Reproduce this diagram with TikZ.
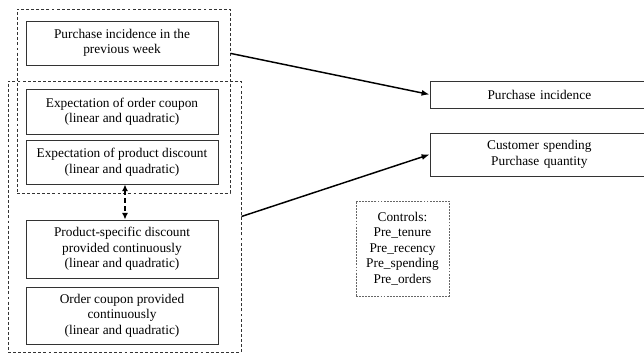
\documentclass[tikz,border=0pt]{standalone}
\usepackage{fontspec}
\setmainfont{Liberation Serif}
\usetikzlibrary{arrows.meta}

\tikzset{
  box/.style={draw=black!80, line width=0.6pt, rectangle, align=center, inner sep=2pt, font=\fontsize{10}{11.6}\selectfont},
  grpbox/.style={draw=black!80, line width=0.7pt, dash pattern=on 2.2pt off 1.6pt, rectangle, inner sep=0pt},
  ctrlbox/.style={draw=black!60, line width=0.7pt, dash pattern=on 1.4pt off 0.9pt, rectangle, align=center, inner sep=0pt, font=\fontsize{10}{11.6}\selectfont},
  arr/.style={-{Latex[length=6pt,width=4.5pt]}, line width=1.1pt}
}

\begin{document}
\begin{tikzpicture}[x=0.75pt,y=-0.75pt]
            \useasboundingbox (0,0) rectangle (644,354);

            \node (prev) [box, minimum width=144pt, minimum height=33pt] at (122,43) {Purchase incidence in the\\previous week};
            \node (coupon) [box, minimum width=144pt, minimum height=33.75pt] at (122,111.5) {Expectation of order coupon\\(linear and quadratic)};
            \node (discount) [box, minimum width=144pt, minimum height=33pt] at (122,162) {Expectation of product discount\\(linear and quadratic)};
            \node (product) [box, minimum width=144pt, minimum height=43.5pt] at (122,249) {Product-specific discount\\provided continuously\\(linear and quadratic)};
            \node (order) [box, minimum width=144pt, minimum height=42.75pt] at (122,315.5) {Order coupon provided\\continuously\\(linear and quadratic)};

            \node (grpa) [grpbox, minimum width=159.75pt, minimum height=138pt] at (123.5,101) {};
            \node (grpb) [grpbox, minimum width=174.75pt, minimum height=203.25pt] at (124.5,216.5) {};

            % right edge runs past the page
            \node (incid) [box, minimum width=180pt, minimum height=20.25pt, text width=156pt] at (550,94.5) {\hspace*{-16pt}Purchase incidence};
            \node (spend) [box, minimum width=180pt, minimum height=32.25pt, text width=156pt] at (550,154.5) {\hspace*{-16pt}Customer spending\\\hspace*{-16pt}Purchase quantity};

            \node (ctrl) [ctrlbox, minimum width=69.75pt, minimum height=71.25pt] at (402.5,248.5) {Controls:\\Pre\_tenure\\Pre\_recency\\Pre\_spending\\Pre\_orders};

            \draw[arr] (grpa.24) -- (incid.west);
            \draw[arr] (grpb.east) -- (spend.west);
            \draw[{Latex[length=5pt,width=4.5pt]}-{Latex[length=5pt,width=4.5pt]}, line width=1.1pt, dash pattern=on 3.5pt off 2.5pt] ([xshift=2.25pt]discount.south) -- ([xshift=2.25pt]product.north);
        \end{tikzpicture}
\end{document}
